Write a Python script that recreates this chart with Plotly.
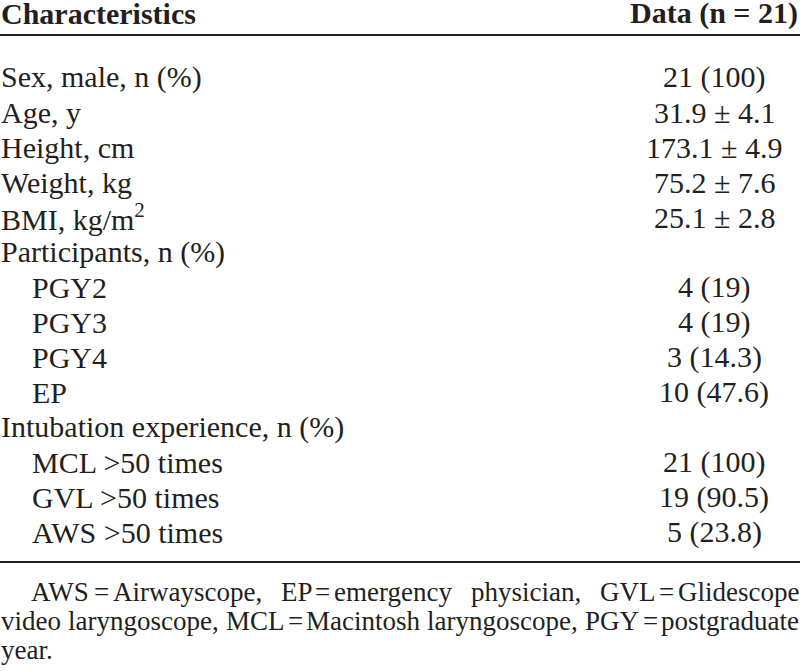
import plotly.graph_objects as go

header_left = "Characteristics"
header_right = "Data (n = 21)"

labels = [
    "Sex, male, n (%)",
    "Age, y",
    "Height, cm",
    "Weight, kg",
    "BMI, kg/m<sup>2</sup>",
    "Participants, n (%)",
    "PGY2",
    "PGY3",
    "PGY4",
    "EP",
    "Intubation experience, n (%)",
    "MCL >50 times",
    "GVL >50 times",
    "AWS >50 times",
]
values = [
    "21 (100)",
    "31.9 ± 4.1",
    "173.1 ± 4.9",
    "75.2 ± 7.6",
    "25.1 ± 2.8",
    "",
    "4 (19)",
    "4 (19)",
    "3 (14.3)",
    "10 (47.6)",
    "",
    "21 (100)",
    "19 (90.5)",
    "5 (23.8)",
]
indent = [0, 0, 0, 0, 0, 0, 1, 1, 1, 1, 0, 1, 1, 1]

footnote_lines = [
    "AWS = Airwayscope, EP = emergency physician, GVL = Glidescope",
    "video laryngoscope, MCL = Macintosh laryngoscope, PGY = postgraduate",
    "year.",
]

W, H = 800, 671
FONT = "Liberation Serif, Times New Roman, serif"
COL = "#231f20"
BODY = 30
FOOT = 27

# Times-Roman advance widths (1/1000 em) for laying out the justified footnote
TW = {" ": 250, "=": 564, ",": 250, ".": 250,
      "A": 722, "W": 944, "S": 556, "E": 611, "P": 556, "G": 722, "V": 722,
      "L": 611, "M": 889, "C": 667, "Y": 722,
      "a": 444, "c": 444, "d": 500, "e": 444, "g": 500, "h": 500, "i": 278,
      "l": 278, "m": 778, "n": 500, "o": 500, "p": 500, "r": 333, "s": 389,
      "t": 278, "u": 500, "v": 500, "w": 722, "y": 500}


def tw(s, size):
    return sum(TW.get(ch, 500) for ch in s) * size / 1000.0


fig = go.Figure()
fig.add_trace(go.Scatter(x=[0, W], y=[0, H], mode="markers",
                         marker=dict(opacity=0), hoverinfo="skip", showlegend=False))

ann = []
ann.append(dict(x=0, y=13, text="<b>%s</b>" % header_left, xanchor="left", yanchor="middle",
                showarrow=False, borderpad=0, font=dict(family=FONT, size=BODY, color=COL)))
ann.append(dict(x=799, y=13, text="<b>%s</b>" % header_right, xanchor="right", yanchor="middle",
                showarrow=False, borderpad=0, font=dict(family=FONT, size=BODY, color=COL)))

y0, step = 77, 35.0
for i, (lab, val, ind) in enumerate(zip(labels, values, indent)):
    y = y0 + i * step
    ann.append(dict(x=0 + 31 * ind, y=y, text=lab, xanchor="left", yanchor="middle",
                    showarrow=False, borderpad=0, font=dict(family=FONT, size=BODY, color=COL)))
    if val:
        ann.append(dict(x=714, y=y, text=val, xanchor="center", yanchor="middle",
                        showarrow=False, borderpad=0, font=dict(family=FONT, size=BODY, color=COL)))

# justified footnote: thin gaps around "=", stretched gaps between other words
fy0, fstep = 592, 29
thin = FOOT * 0.12
right_edge = 798
ffont = dict(family=FONT, size=FOOT, color=COL)
for i, line in enumerate(footnote_lines):
    y = fy0 + i * fstep
    x_start = 30 if i == 0 else 0
    words = line.split(" ")
    last = i == len(footnote_lines) - 1
    gaps = []
    for a, b in zip(words[:-1], words[1:]):
        gaps.append("thin" if (a == "=" or b == "=") else "wide")
    n_wide = gaps.count("wide")
    used = sum(tw(w_, FOOT) for w_ in words) + gaps.count("thin") * thin
    wide = FOOT * 0.25 if last or n_wide == 0 else (right_edge - x_start - used) / n_wide
    x = x_start
    for k, w_ in enumerate(words):
        ann.append(dict(x=x, y=y, text=w_, xanchor="left", yanchor="middle",
                        showarrow=False, borderpad=0, font=ffont))
        x += tw(w_, FOOT)
        if k < len(gaps):
            x += thin if gaps[k] == "thin" else wide

shapes = [
    dict(type="line", x0=0, x1=W, y0=35, y1=35, line=dict(color=COL, width=2)),
    dict(type="line", x0=0, x1=W, y0=562, y1=562, line=dict(color=COL, width=2)),
]

fig.update_layout(
    width=W, height=H, margin=dict(l=0, r=0, t=0, b=0),
    paper_bgcolor="white", plot_bgcolor="white",
    xaxis=dict(range=[0, W], visible=False, fixedrange=True),
    yaxis=dict(range=[H, 0], visible=False, fixedrange=True),
    annotations=ann, shapes=shapes, showlegend=False,
)
fig.write_html("out.html", post_script="document.body.style.margin='0';",
               config={"displayModeBar": False})
